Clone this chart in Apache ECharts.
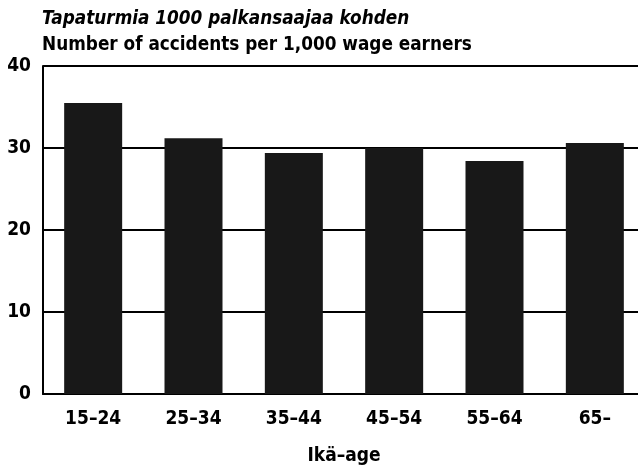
<!DOCTYPE html>
<html>
<head>
<meta charset="utf-8">
<script src="https://cdn.jsdelivr.net/npm/echarts@6/dist/echarts.min.js"></script>
<style>
  html, body { margin: 0; padding: 0; background: #fff; }
  #main { width: 638px; height: 472px; }
</style>
</head>
<body>
<div id="main"></div>
<script>
// ikäryhmät ja tapaturmat / 1000 palkansaajaa
var categories = ['15–24', '25–34', '35–44', '45–54', '55–64', '65–']
var accidents = [35.5, 31.2, 29.4, 30.0, 28.4, 30.6]
var yTicks = [0, 10, 20, 30, 40]

var FONT = '"Liberation Sans Narrow", "DejaVu Sans Condensed", "Liberation Sans", sans-serif'

var chart = echarts.init(document.getElementById('main'))
var option = {
  animation: false,
  title: [
    {
      text: 'Tapaturmia 1000 palkansaajaa kohden',
      left: 42,
      top: 10,
      padding: 0,
      textStyle: { fontFamily: FONT, fontSize: 18.8, fontWeight: 'bold', fontStyle: 'italic', color: '#000' }
    },
    {
      text: 'Number of accidents per 1,000 wage earners',
      left: 42,
      top: 36,
      padding: 0,
      textStyle: { fontFamily: FONT, fontSize: 18.8, fontWeight: 'bold', color: '#000' }
    }
  ],
  grid: {
    left: 43,
    width: 602,
    top: 66,
    bottom: 78,
    outerBoundsMode: 'none'
  },
  xAxis: {
    type: 'category',
    data: categories,
    name: 'Ikä–age',
    nameLocation: 'middle',
    nameGap: 53,
    nameTextStyle: { fontFamily: FONT, fontSize: 19, fontWeight: 'bold', color: '#000' },
    axisLine: { lineStyle: { color: '#000', width: 2 } },
    axisTick: { show: false },
    axisLabel: { fontFamily: FONT, fontSize: 19, fontWeight: 'bold', color: '#000', margin: 16 }
  },
  yAxis: {
    type: 'value',
    min: yTicks[0],
    max: yTicks[yTicks.length - 1],
    interval: 10,
    axisLine: { show: true, lineStyle: { color: '#000', width: 2 } },
    axisTick: { show: false },
    axisLabel: { fontFamily: FONT, fontSize: 19, fontWeight: 'bold', color: '#000', margin: 12 },
    splitLine: { lineStyle: { color: '#000', width: 2 } }
  },
  series: [
    {
      type: 'bar',
      data: accidents,
      barWidth: 58,
      itemStyle: {
        color: '#181818'
      }
    }
  ]
}
chart.setOption(option)
</script>
</body>
</html>
